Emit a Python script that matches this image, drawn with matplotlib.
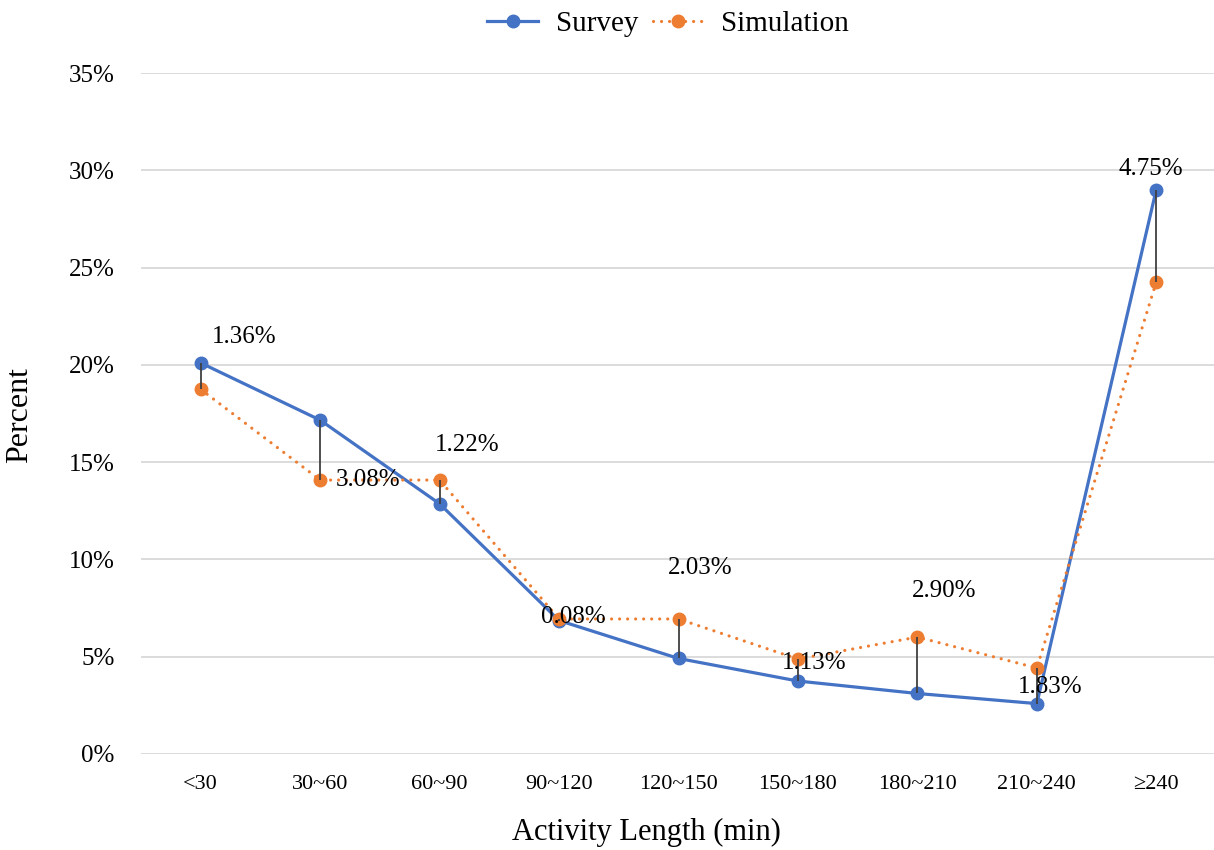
import matplotlib
matplotlib.use("Agg")
import matplotlib.pyplot as plt
import numpy as np

categories = ["<30", "30~60", "60~90", "90~120", "120~150", "150~180", "180~210", "210~240", "≥240"]
survey = [20.10, 17.16, 12.86, 6.86, 4.91, 3.75, 3.11, 2.59, 29.01]
simulation = [18.74, 14.08, 14.08, 6.94, 6.94, 4.88, 6.01, 4.42, 24.26]
diff_labels = ["1.36%", "3.08%", "1.22%", "0.08%", "2.03%", "1.13%", "2.90%", "1.83%", "4.75%"]
yticks = [0, 5, 10, 15, 20, 25, 30, 35]

# label offsets in pixels (dx, dy) relative to the anchor point, and which series anchors it
label_anchor = ["survey", "sim", "sim", "sim", "sim", "sim", "sim", "sim", "survey"]
label_offsets = [(43, 26), (48, 0), (28, 35), (14, 2), (22, 51), (16, -4), (27, 46), (13, -19), (-5, 21)]

plt.rcParams['font.family'] = ['Liberation Serif', 'DejaVu Serif']

fig = plt.figure(figsize=(12.14, 8.5), dpi=100)
ax = fig.add_axes([141/1214, 1 - 754/850, (1216 - 141)/1214, (754 - 73)/850])

x = np.arange(len(categories))
blue = "#4472C4"
orange = "#ED7D31"

ax.plot(x, survey, color=blue, lw=2.3, marker="o", ms=9, label="Survey", zorder=3)
ax.plot(x, simulation, color=orange, lw=2.3, ls=(0, (0.01, 2.5)), dash_capstyle="round",
        marker="o", ms=9, label="Simulation", zorder=3)
ax.vlines(x, simulation, survey, color="#404040", lw=1.3, zorder=4)

for i, lab in enumerate(diff_labels):
    yv = survey[i] if label_anchor[i] == "survey" else simulation[i]
    dx, dy = label_offsets[i]
    ax.annotate(lab, (x[i], yv), xytext=(dx, dy), textcoords="offset pixels",
                ha="center", va="center", fontsize=18, color="black", zorder=5)

ax.set_xlim(-0.5, len(categories) - 0.5)
ax.set_ylim(0, 35)
ax.set_yticks(yticks)
ax.set_yticklabels([f"{v}%" for v in yticks])
ax.set_xticks(x)
ax.set_xticklabels(categories)
ax.tick_params(axis="both", length=0)
ax.tick_params(axis="y", pad=19, labelsize=18)
ax.tick_params(axis="x", pad=15, labelsize=16)
ax.grid(axis="y", color="#D9D9D9", lw=1.3)
ax.set_axisbelow(True)
for s in ax.spines.values():
    s.set_visible(False)

fig.text(646/1214, 1 - 832/850, "Activity Length (min)", ha="center", va="center", fontsize=22)
fig.text(20/1214, 1 - 415/850, "Percent", ha="center", va="center", rotation=90, fontsize=23)

leg = fig.legend(loc="center", bbox_to_anchor=(668/1214, 1 - 24/850), ncol=2, frameon=False,
                 fontsize=21, handlelength=1.75, columnspacing=0.5, handletextpad=0.6)

fig.savefig("out.png", dpi=100)
